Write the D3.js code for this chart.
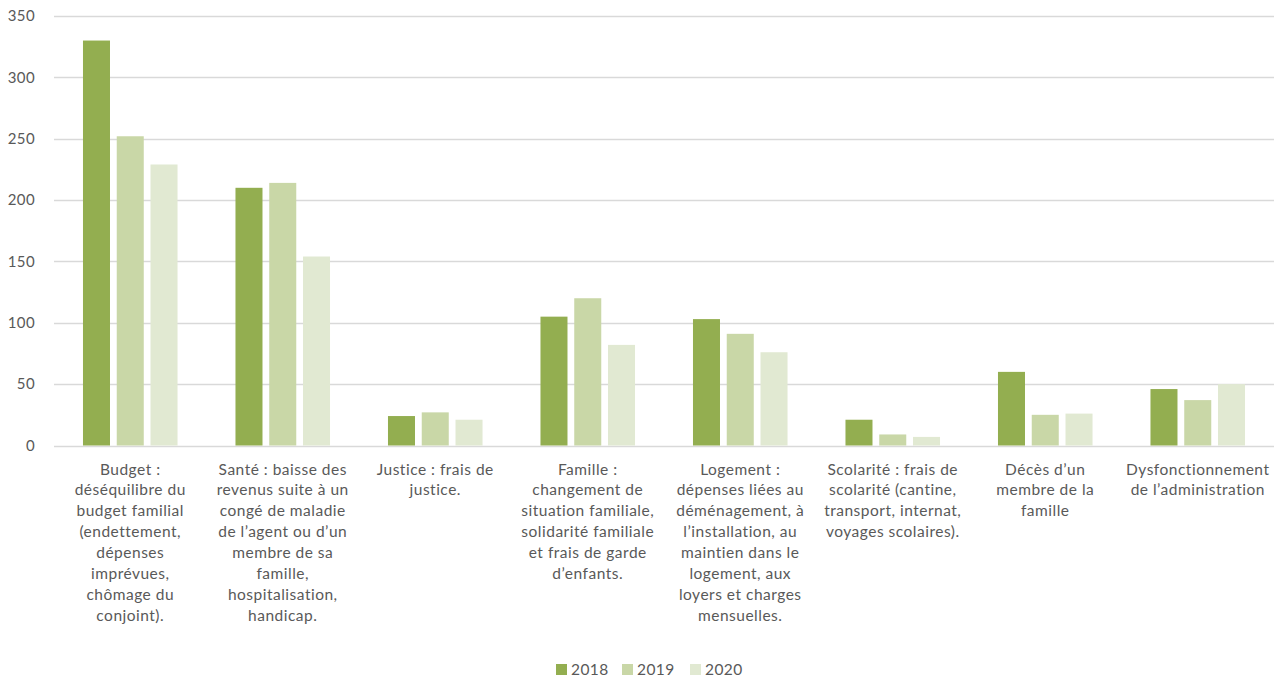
<!DOCTYPE html>
<html>
<head>
<meta charset="utf-8">
<script src="https://cdn.jsdelivr.net/npm/d3@7"></script>
<style>
  html, body { margin: 0; padding: 0; background: #fff; }
  svg text { font-family: Lato, "Open Sans", sans-serif; fill: #595959; }
</style>
</head>
<body>
<svg id="chart" width="1286" height="684"></svg>
<script>
// Categories (line breaks as shown under the axis)
const categories = [
  "Budget :\ndéséquilibre du\nbudget familial\n(endettement,\ndépenses\nimprévues,\nchômage du\nconjoint).",
  "Santé : baisse des\nrevenus suite à un\ncongé de maladie\nde l’agent ou d’un\nmembre de sa\nfamille,\nhospitalisation,\nhandicap.",
  "Justice : frais de\njustice.",
  "Famille :\nchangement de\nsituation familiale,\nsolidarité familiale\net frais de garde\nd’enfants.",
  "Logement :\ndépenses liées au\ndéménagement, à\nl’installation, au\nmaintien dans le\nlogement, aux\nloyers et charges\nmensuelles.",
  "Scolarité : frais de\nscolarité (cantine,\ntransport, internat,\nvoyages scolaires).",
  "Décès d’un\nmembre de la\nfamille",
  "Dysfonctionnement\nde l’administration"
];

const years = ["2018", "2019", "2020"];
const values2018 = [330, 210, 24, 105, 103, 21, 60, 46];
const values2019 = [252, 214, 27, 120, 91, 9, 25, 37];
const values2020 = [229, 154, 21, 82, 76, 7, 26, 50];
const yTicks = [0, 50, 100, 150, 200, 250, 300, 350];
const colors = ["#93AE50", "#C9D7A7", "#E1E9D2"];

const series = [values2018, values2019, values2020];

const svg = d3.select("#chart");
const margin = { left: 54, right: 12, top: 16, bottom: 238.5 };
const W = 1286, H = 684;

const x = d3.scaleBand()
  .domain(d3.range(categories.length))
  .range([margin.left, W - margin.right])
  .paddingInner(0.38)
  .paddingOuter(0.19);

const xInner = d3.scaleBand()
  .domain(years)
  .range([0, x.bandwidth()])
  .paddingInner(0.2);

const y = d3.scaleLinear()
  .domain([0, 350])
  .range([H - margin.bottom, margin.top]);

// Horizontal gridlines
svg.append("g")
  .selectAll("line")
  .data(yTicks)
  .join("line")
  .attr("x1", margin.left)
  .attr("x2", W - margin.right)
  .attr("y1", d => Math.round(y(d)) + 0.5)
  .attr("y2", d => Math.round(y(d)) + 0.5)
  .attr("stroke", "#D9D9D9")
  .attr("stroke-width", 1.3);

// Y-axis tick labels
svg.append("g")
  .selectAll("text")
  .data(yTicks)
  .join("text")
  .attr("x", 35)
  .attr("y", d => y(d))
  .attr("dy", "0.35em")
  .attr("text-anchor", "end")
  .style("font-size", "15px")
  .style("letter-spacing", "0.4px")
  .text(d => d);

// Bars
const groups = svg.append("g")
  .selectAll("g")
  .data(categories.map((c, i) => i))
  .join("g")
  .attr("transform", i => `translate(${x(i)},0)`);

groups.selectAll("rect")
  .data(i => years.map((yr, s) => ({ yr, s, v: series[s][i] })))
  .join("rect")
  .attr("x", d => xInner(d.yr))
  .attr("width", xInner.bandwidth())
  .attr("y", d => y(d.v))
  .attr("height", d => y(0) - y(d.v))
  .attr("fill", d => colors[d.s]);

// Category labels
const lineH = 20.9;
svg.append("g")
  .selectAll("text")
  .data(categories)
  .join("text")
  .attr("text-anchor", "middle")
  .style("font-size", "15.5px")
  .style("letter-spacing", "0.5px")
  .each(function (c, i) {
    const t = d3.select(this);
    c.split("\n").forEach((ln, k) => {
      t.append("tspan")
        .attr("x", x(i) + x.bandwidth() / 2)
        .attr("y", 474.5 + k * lineH)
        .text(ln);
    });
  });

// Legend
const legendX = [556, 622, 690];
const legend = svg.append("g")
  .selectAll("g")
  .data(years)
  .join("g")
  .attr("transform", (d, i) => `translate(${legendX[i]},664)`);
legend.append("rect")
  .attr("width", 11).attr("height", 11)
  .attr("fill", (d, i) => colors[i]);
legend.append("text")
  .attr("x", 15).attr("y", 5.5).attr("dy", "0.35em")
  .style("font-size", "15.5px")
  .style("letter-spacing", "0.4px")
  .text(d => d);
</script>
</body>
</html>
